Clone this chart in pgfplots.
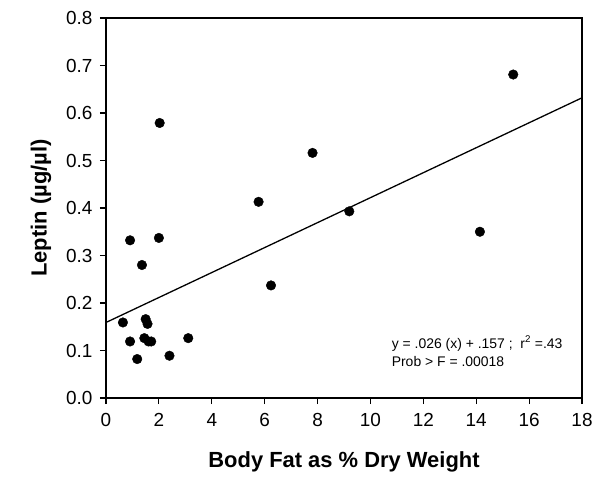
\documentclass[border=0pt]{standalone}
\usepackage{fontspec}
\setmainfont{Liberation Sans}
\usepackage{pgfplots}
\pgfplotsset{compat=1.18}
\begin{document}
\begin{tikzpicture}
\useasboundingbox (-106bp,-88bp) rectangle (495bp,398bp);
\begin{axis}[
  scale only axis,
  width=476bp, height=380bp,
  xmin=0, xmax=18, ymin=0, ymax=0.8,
  xtick={0,2,...,18},
  ytick={0,0.1,...,0.8},
  tick align=outside,
  tick pos=left,
  major tick length=6bp,
  axis line style={line width=1.3pt},
  every tick/.style={black, line width=1.1pt},
  /pgf/number format/assume math mode=true,
  yticklabel style={/pgf/number format/fixed, /pgf/number format/fixed zerofill, /pgf/number format/precision=1, font=\fontsize{19}{22}\selectfont, xshift=-4bp},
  xticklabel style={font=\fontsize{19}{22}\selectfont, yshift=-6bp},
  xlabel={\textbf{Body Fat as \% Dry Weight}},
  ylabel={\textbf{Leptin (µg/µl)}},
  xlabel style={font=\fontsize{22}{26}\selectfont, yshift=-18bp},
  ylabel style={font=\fontsize{22}{26}\selectfont, yshift=8bp},
  clip=false,
]
\addplot[only marks, mark=*, mark size=4.8bp, black] coordinates {
(0.64,0.159) (0.91,0.332) (2.00,0.337) (1.36,0.280) (1.50,0.166)
(1.57,0.156) (0.91,0.119) (1.45,0.126) (1.61,0.119) (1.71,0.119)
(1.18,0.082) (2.40,0.089) (3.11,0.126) (2.03,0.579) (5.77,0.413)
(7.81,0.516) (9.20,0.393) (6.24,0.237) (14.14,0.350) (15.40,0.681)
};
\addplot[black, line width=1.3pt] coordinates {(0,0.159) (18,0.632)};
\node[anchor=base west, font=\fontsize{14}{16}\selectfont, inner sep=0pt] at (axis cs:10.8,0.105) {y = .026 (x) + .157 ;\ \ r\textsuperscript{2} =.43};
\node[anchor=base west, font=\fontsize{14}{16}\selectfont, inner sep=0pt] at (axis cs:10.8,0.066) {Prob > F = .00018};
\end{axis}
\end{tikzpicture}
\end{document}
